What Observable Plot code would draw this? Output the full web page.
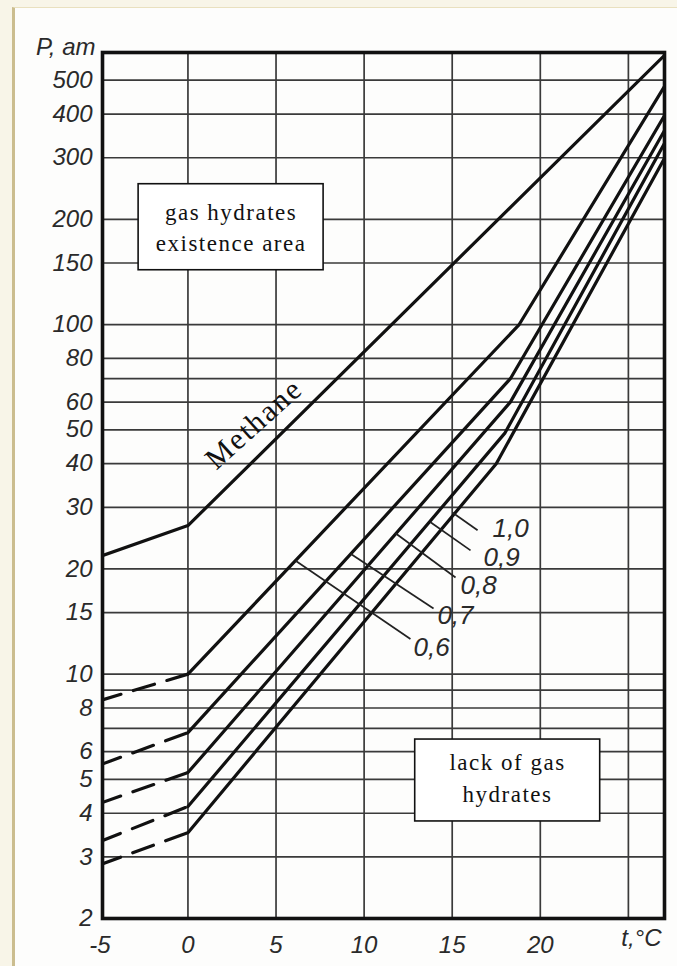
<!DOCTYPE html>
<html><head><meta charset="utf-8">
<script src="https://cdn.jsdelivr.net/npm/d3@7"></script>
<script src="https://cdn.jsdelivr.net/npm/@observablehq/plot@0.6"></script>
<style>
html,body{margin:0;padding:0;width:677px;height:966px;overflow:hidden;background:#f8f5e8;}
#bg{position:absolute;left:12px;top:7px;right:0;bottom:0;background:#fdfdfc;border-left:3px solid #cbbd8f;border-top:1px solid #e9e0bf;}
#chart{position:absolute;left:0;top:0;}
</style></head>
<body><div id="bg"></div><div id="chart"></div>
<script>
// axis ticks / grid
const xTicks = [-5, 0, 5, 10, 15, 20];
const xGrid = [0, 5, 10, 15, 20, 25];
const yTicks = [2, 3, 4, 5, 6, 8, 10, 15, 20, 30, 40, 50, 60, 80, 100, 150, 200, 300, 400, 500];
const yGrid = [3, 4, 5, 6, 7, 8, 9, 10, 15, 20, 30, 40, 50, 60, 70, 80, 100, 150, 200, 300, 400, 500];

// Methane curve
const methaneT = [-5, 0, 27.05];
const methaneP = [21.7, 26.6, 589];

// gas relative density curves
const densities = ["0,6", "0,7", "0,8", "0,9", "1,0"];
const dashStartT = -5;
const dashStartP = [8.4, 5.5, 4.27, 3.32, 2.85];
const dashEndT = 0;
const dashEndP = [10, 6.8, 5.23, 4.18, 3.52];
const bendT = [18.8, 18.3, 18.3, 18.0, 17.5];
const bendP = [100, 70, 60, 49, 40];
const endT = 27.05;
const endP = [480, 396, 359, 330, 299];

// leader lines and labels for densities
const ptrT1 = [6.11, 9.23, 11.78, 13.77, 15.01];
const ptrP1 = [21.1, 22.1, 25.3, 27.2, 29.0];
const ptrT2 = [12.63, 13.94, 15.19, 16.04, 16.44];
const ptrP2 = [12.6, 15.4, 18.9, 22.6, 25.8];
const labT = [12.8, 14.16, 15.47, 16.78, 17.29];
const labP = [11.9, 14.7, 17.9, 21.6, 26.1];

// annotation boxes
const boxText = ["gas hydrates\nexistence area", "lack of gas\nhydrates"];
const boxT1 = [-2.8, 12.9];
const boxT2 = [7.7, 23.4];
const boxP1 = [143, 3.79];
const boxP2 = [252, 6.5];
const boxTextT = [2.45, 18.14];
const boxTextP = [192, 5.11];

const methaneLabel = ["Methane"];
const methaneLabelT = [3.75];
const methaneLabelP = [52];

// build tables
const methane = methaneT.map((t, i) => ({t, p: methaneP[i]}));
const solid = densities.flatMap((d, i) => [
  {d, t: dashEndT, p: dashEndP[i]},
  {d, t: bendT[i], p: bendP[i]},
  {d, t: endT, p: endP[i]}
]);
const dashed = densities.flatMap((d, i) => [
  {d, t: dashStartT, p: dashStartP[i]},
  {d, t: dashEndT, p: dashEndP[i]}
]);
const pointers = densities.map((d, i) => ({d, x1: ptrT1[i], y1: ptrP1[i], x2: ptrT2[i], y2: ptrP2[i], lx: labT[i], ly: labP[i]}));
const boxes = boxText.map((s, i) => ({s, x1: boxT1[i], x2: boxT2[i], y1: boxP1[i], y2: boxP2[i], tx: boxTextT[i], ty: boxTextP[i]}));
const mlab = methaneLabel.map((s, i) => ({s, t: methaneLabelT[i], p: methaneLabelP[i]}));

const ink = "#111";
const gridColor = "#3a3a3a";
const labelColor = "#2a2a2a";

const chart = Plot.plot({
  width: 677,
  height: 966,
  marginLeft: 102,
  marginRight: 13,
  marginTop: 52,
  marginBottom: 48,
  style: {background: "transparent", fontFamily: "Liberation Sans, Arial, sans-serif", fontSize: "24px", fontStyle: "italic", color: labelColor},
  x: {domain: [-4.85, 27.05], axis: null},
  y: {type: "log", domain: [2, 600], axis: null},
  marks: [
    Plot.gridX(xGrid, {stroke: gridColor, strokeOpacity: 1, strokeWidth: 1.7}),
    Plot.gridY(yGrid, {stroke: gridColor, strokeOpacity: 1, strokeWidth: 1.7}),
    Plot.text(xTicks, {x: d => d, text: d => String(d), frameAnchor: "bottom", lineAnchor: "top", dy: 17, fontSize: 24, fontStyle: "italic", fill: labelColor}),
    Plot.text(yTicks, {y: d => d, text: d => String(d), frameAnchor: "left", textAnchor: "end", dx: -10, fontSize: 24, fontStyle: "italic", fill: labelColor}),
    Plot.line(methane, {x: "t", y: "p", stroke: ink, strokeWidth: 3.2, clip: true}),
    Plot.line(solid, {x: "t", y: "p", z: "d", stroke: ink, strokeWidth: 3.2, clip: true}),
    Plot.line(dashed, {x: "t", y: "p", z: "d", stroke: ink, strokeWidth: 3.2, strokeDasharray: "22,13", clip: true}),
    Plot.link(pointers, {x1: "x1", y1: "y1", x2: "x2", y2: "y2", stroke: "#222", strokeWidth: 1.7}),
    Plot.text(pointers, {x: "lx", y: "ly", text: "d", textAnchor: "start", fontSize: 26, fontStyle: "italic", fill: labelColor}),
    Plot.rect(boxes, {x1: "x1", x2: "x2", y1: "y1", y2: "y2", fill: "white", stroke: ink, strokeWidth: 1.6}),
    Plot.text(boxes, {x: "tx", y: "ty", text: "s", fontFamily: "Liberation Serif, Times New Roman, serif", fontStyle: "normal", fontSize: 23, lineHeight: 1.35, fill: ink}),
    Plot.text(mlab, {x: "t", y: "p", text: "s", rotate: -42, fontFamily: "Liberation Serif, Times New Roman, serif", fontStyle: "normal", fontSize: 30, fill: ink}),
    Plot.text(["P, am"], {frameAnchor: "top-left", textAnchor: "end", dx: -7, dy: -15, fontSize: 24, fontStyle: "italic", fill: labelColor}),
    Plot.text(["t,°C"], {frameAnchor: "bottom-right", textAnchor: "end", dx: -3, dy: 27, fontSize: 24, fontStyle: "italic", fill: labelColor}),
    Plot.frame({stroke: ink, strokeWidth: 3.6})
  ]
});
// widen the serif annotation lettering like the reference
chart.querySelectorAll("text").forEach(el => {
  const s = el.textContent;
  if (s.includes("hydrates") || s.includes("existence") || s.includes("lack of")) el.style.letterSpacing = "1.5px";
  if (s === "Methane") el.style.letterSpacing = "2px";
});
document.getElementById("chart").appendChild(chart);
</script>
</body></html>
